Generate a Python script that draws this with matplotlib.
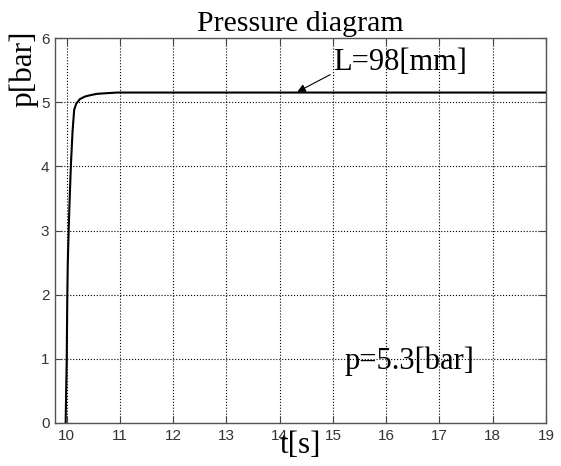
import numpy as np
import matplotlib.pyplot as plt

# pressure trace
t = [9.98, 10.00, 10.01, 10.02, 10.04, 10.06, 10.08, 10.11, 10.14, 10.18, 10.25,
     10.35, 10.45, 10.57, 10.75, 10.95, 11.5, 12.0, 13.0, 14.0, 15.0, 16.0,
     17.0, 18.0, 19.0]
p = [0.0, 1.0, 1.9, 2.5, 3.1, 3.6, 4.05, 4.55, 4.88, 4.98, 5.05,
     5.09, 5.11, 5.13, 5.14, 5.15, 5.15, 5.15, 5.15, 5.15, 5.15, 5.15,
     5.15, 5.15, 5.15]

xticks = [10, 11, 12, 13, 14, 15, 16, 17, 18, 19]
yticks = [0, 1, 2, 3, 4, 5, 6]

serif = 'Liberation Serif'
sans = 'Liberation Sans'

fig = plt.figure(figsize=(5.61, 4.66), dpi=100)
ax = fig.add_axes([55/561, 1 - 423/466, 491/561, 385/466])

ax.plot(t, p, color='black', lw=1.5)

ax.set_xlim(9.78, 19)
ax.set_ylim(0, 6)
ax.set_xticks(xticks)
ax.set_yticks(yticks)
ax.grid(True, color='black', linestyle=':', linewidth=0.8)
ax.tick_params(direction='in', length=5, top=True, right=True,
               labelsize=11, labelcolor='#333333', color='#444444', pad=4)
for lab in ax.get_xticklabels() + ax.get_yticklabels():
    lab.set_family(sans)
for s in ax.spines.values():
    s.set_color('#555555')
    s.set_linewidth(1.0)

ax.set_title('Pressure diagram', family=serif, fontsize=21.5, pad=5)
ax.set_xlabel('t[s]', family=serif, fontsize=22.5)
ax.xaxis.set_label_coords(0.5, -0.02)
ax.xaxis.label.set_va('top')
ax.set_ylabel('p[bar]', family=serif, fontsize=22.5)
ax.yaxis.set_label_coords(-0.064, 0.92)
ax.yaxis.label.set_va('center')

ax.annotate('L=98[mm]', xy=(14.33, 5.16), xytext=(15.0, 5.62),
            family=serif, fontsize=22, ha='left', va='center',
            arrowprops=dict(arrowstyle='-|>', color='black', lw=0.8,
                            mutation_scale=12, relpos=(0.03, 0.2),
                            shrinkA=0, shrinkB=0))
ax.text(15.22, 0.97, 'p=5.3[bar]', family=serif, fontsize=22,
        ha='left', va='center')

fig.savefig('out.png', dpi=100)
